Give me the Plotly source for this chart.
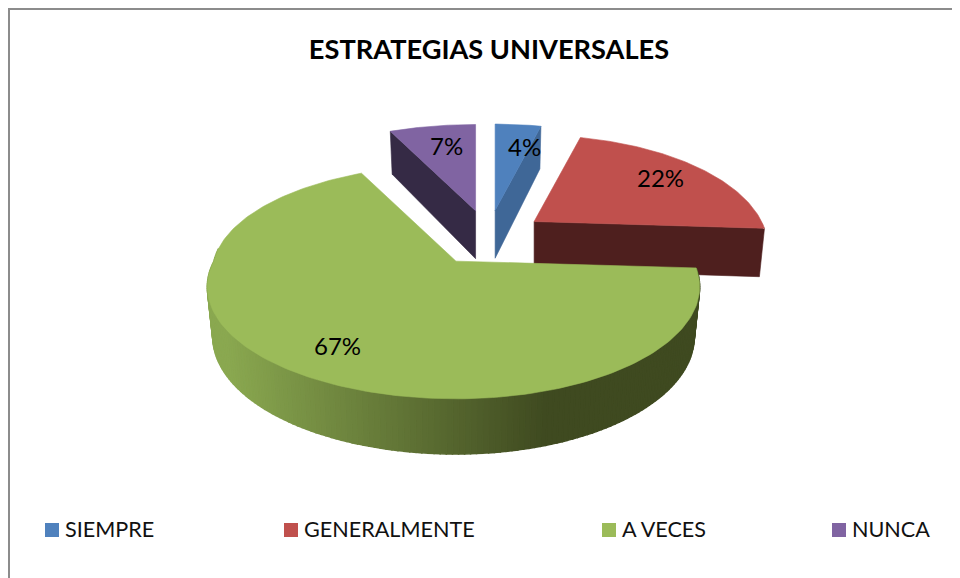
import math
import plotly.graph_objects as go

categories = ["SIEMPRE", "GENERALMENTE", "A VECES", "NUNCA"]
values = [4, 22, 67, 7]
colors = ["#4F81BD", "#C0504D", "#9BBB59", "#8064A2"]
wall_colors = ["#3F6797", "#4E1F1E", None, "#352A45"]

# page keeps its 8 px body margin, so the figure starts at (8, 8) on screen
PAGE_MARGIN = 8
WIDTH, HEIGHT = 960 - PAGE_MARGIN, 578 - PAGE_MARGIN

CX, CY, SPREAD_X, SPREAD_Y = 488.0, 238.0, 285.0, 140.0
RX, RY, K, DEPTH, K_DEPTH, PULL = 242.0, 106.0, 0.23, 48.0, 0.13, 0.20
RIGHT_SCALE = [0.93, 0.94, 0.98, 1.0]
K_UPPER = [0.23, 0.23, 0.10, 0.23]


def slice_geometry(total=sum(values)):
    out, start = [], 0.0
    for val in values:
        end = start + 2 * math.pi * val / total
        mid = (start + end) / 2
        out.append((start, end, PULL * math.sin(mid), PULL * math.cos(mid)))
        start = end
    return out


geo = slice_geometry()


def apex(i, z=0.0):
    _, _, ou, ov = geo[i]
    return CX + SPREAD_X * ou, CY - SPREAD_Y * ov + DEPTH * z


def point(i, t, z=0.0):
    ax, ay = apex(i)
    u, v = math.sin(t), math.cos(t)
    k = K_UPPER[i] if v > 0 else K
    s = 1.0 / (1.0 + k * v)
    rx = RX * (RIGHT_SCALE[i] if u > 0 else 1.0)
    return (ax + rx * u * s * (1 - 0.022 * z),
            ay - RY * v * s + z * DEPTH / (1.0 + K_DEPTH * v))


def rim(i, a, b, z=0.0, n=80):
    return [point(i, a + (b - a) * j / n, z) for j in range(n + 1)]


def poly(pts, color, name, width=0.6):
    xs = [p[0] for p in pts] + [pts[0][0]]
    ys = [p[1] for p in pts] + [pts[0][1]]
    return go.Scatter(x=xs, y=ys, mode="lines", fill="toself", fillcolor=color,
                      line=dict(color=color, width=width), name=name, hoverinfo="name",
                      showlegend=False)


def mix(c1, c2, f):
    return "rgb(%d,%d,%d)" % tuple(round(c1[k] + (c2[k] - c1[k]) * f) for k in range(3))


def cut_face(i, t):
    return [apex(i), point(i, t), point(i, t, 1), apex(i, 1)]


fig = go.Figure()

# blue: right-hand cut face, then top
s, e, _, _ = geo[0]
fig.add_trace(poly(cut_face(0, e), wall_colors[0], categories[0]))
fig.add_trace(poly([apex(0)] + rim(0, s, e), colors[0], categories[0]))

# purple: left-hand cut face, then top
s, e, _, _ = geo[3]
fig.add_trace(poly(cut_face(3, s), wall_colors[3], categories[3]))
fig.add_trace(poly([apex(3)] + rim(3, s, e), colors[3], categories[3]))

# red: front cut face, then top
s, e, _, _ = geo[1]
fig.add_trace(poly(cut_face(1, e), wall_colors[1], categories[1]))
fig.add_trace(poly([apex(1)] + rim(1, s, e), colors[1], categories[1]))

# green: outer wall as shaded strips, then top
s, e, _, _ = geo[2]
light, dark = (138, 168, 80), (63, 74, 32)
STRIPS = 160
wall_end = 3 * math.pi / 2 + 0.12
for j in range(STRIPS):
    a = s + (wall_end - s) * j / STRIPS
    b = s + (wall_end - s) * (j + 1) / STRIPS
    top = rim(2, a, b, 0, 2)
    bottom = rim(2, a, b, 1, 2)
    xmid = (top[0][0] + top[-1][0]) / 2
    f = min(1.0, max(0.0, (545 - xmid) / (545 - 225)))
    fig.add_trace(poly(top + bottom[::-1], mix(dark, light, f), categories[2], width=1.5))
fig.add_trace(poly([apex(2)] + rim(2, s, e, 0, 200), colors[2], categories[2]))

# legend: square key and real text for every category
legend_x = [45, 284, 602, 832]
LEGEND_Y = 530
for name, color, lx in zip(categories, colors, legend_x):
    fig.add_trace(go.Scatter(x=[lx + 7], y=[LEGEND_Y], mode="markers", showlegend=False, hoverinfo="skip",
                             marker=dict(symbol="square", size=14, color=color)))
annotations = [dict(x=lx + 18, y=LEGEND_Y - 1, text=name, xanchor="left", yanchor="middle", showarrow=False,
                    font=dict(family="Lato", size=21.6, color="#111111"))
               for name, lx in zip(categories, legend_x)]

# percentage labels
label_xy = [(524, 146), (660, 177), (337, 345), (446, 145)]
annotations += [dict(x=x, y=y, text=f"{v}%", showarrow=False, xanchor="center", yanchor="middle",
                     font=dict(family="Lato", size=24, color="#000000"))
                for v, (x, y) in zip(values, label_xy)]

fig.update_layout(
    width=WIDTH, height=HEIGHT, margin=dict(l=0, r=0, t=0, b=0),
    paper_bgcolor="white", plot_bgcolor="white", showlegend=False,
    title=dict(text="<b>ESTRATEGIAS UNIVERSALES</b>", x=(489 - PAGE_MARGIN) / WIDTH, xanchor="center",
               y=1 - (49 - PAGE_MARGIN) / HEIGHT, yanchor="middle",
               font=dict(family="Lato", size=27.2, color="#000000")),
    xaxis=dict(range=[PAGE_MARGIN, 960], visible=False, fixedrange=True),
    yaxis=dict(range=[578, PAGE_MARGIN], visible=False, fixedrange=True),
    annotations=annotations,
    shapes=[dict(type="line", x0=8, x1=960, y0=9, y1=9, line=dict(color="#8C8C8C", width=2)),
            dict(type="line", x0=9, x1=9, y0=8, y1=578, line=dict(color="#8C8C8C", width=2))],
)
fig.write_html("out.html")
